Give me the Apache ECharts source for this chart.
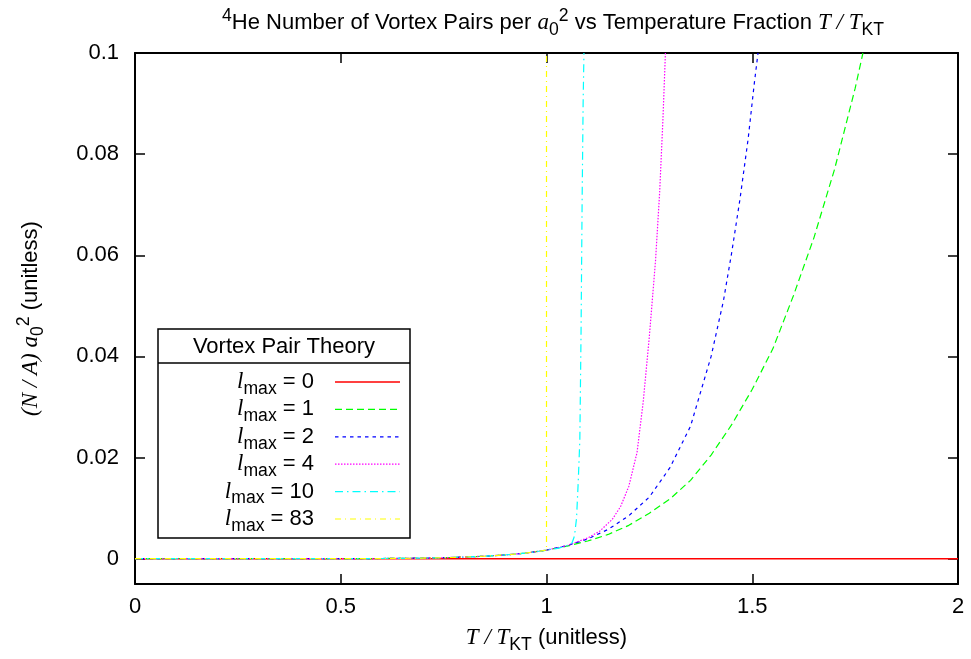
<!DOCTYPE html>
<html><head><meta charset="utf-8">
<script src="https://cdn.jsdelivr.net/npm/echarts@6/dist/echarts.min.js"></script>
<style>html,body{margin:0;padding:0;background:#fff}#c{width:971px;height:659px}</style>
</head><body><div id="c"></div>
<script>
// ---- data ----
const lmaxLabels = ['0', '1', '2', '4', '10', '83'];
const seriesColors = ['#ff0000', '#00ff00', '#0000ff', '#ff00ff', '#00ffff', '#ffff00'];

// shared low-temperature part (all l_max >= 1 follow it up to T/T_KT = 1)
const baseX = [0, 0.5, 0.6, 0.7, 0.75, 0.8, 0.85, 0.9, 0.95, 1.0];
const baseY = [0, 0.00001, 0.00004, 0.00012, 0.0002, 0.00033, 0.0005, 0.00075, 0.0011, 0.0017];

const lmax0X = [0, 2];
const lmax0Y = [0, 0];
const lmax1X = [1.05, 1.1, 1.15, 1.2, 1.25, 1.3, 1.35, 1.4, 1.45, 1.5, 1.55, 1.6, 1.65, 1.7, 1.75, 1.769];
const lmax1Y = [0.0025, 0.0035, 0.0048, 0.0066, 0.009, 0.0118, 0.0155, 0.0205, 0.0265, 0.0335, 0.0415, 0.052, 0.0635, 0.077, 0.093, 0.1];
const lmax2X = [1.05, 1.1, 1.15, 1.2, 1.25, 1.3, 1.35, 1.4, 1.43, 1.45, 1.47, 1.49, 1.505, 1.514];
const lmax2Y = [0.0026, 0.0039, 0.0058, 0.0085, 0.0122, 0.018, 0.0262, 0.040, 0.051, 0.0605, 0.071, 0.083, 0.094, 0.1];
const lmax4X = [1.05, 1.1, 1.13, 1.16, 1.18, 1.2, 1.22, 1.235, 1.25, 1.265, 1.275, 1.283, 1.289];
const lmax4Y = [0.0026, 0.0041, 0.0055, 0.0078, 0.0103, 0.0143, 0.021, 0.031, 0.044, 0.059, 0.0725, 0.087, 0.1];
const lmax10X = [1.03, 1.05, 1.062, 1.068, 1.073, 1.077, 1.081, 1.084, 1.0865, 1.089, 1.091];
const lmax10Y = [0.0021, 0.0026, 0.0031, 0.0045, 0.008, 0.015, 0.0235, 0.045, 0.07, 0.09, 0.1];
const lmax83X = [1.0];
const lmax83Y = [0.1];

const xTicks = [0, 0.5, 1, 1.5, 2];
const xTickLabels = ['0', '0.5', '1', '1.5', '2'];
const yTicks = [0, 0.02, 0.04, 0.06, 0.08, 0.1];
const yTickLabels = ['0', '0.02', '0.04', '0.06', '0.08', '0.1'];

// ---- build ----
const SANS = 'Liberation Sans, Arial, sans-serif';
const SERIF = 'Liberation Serif, Times New Roman, serif';
function zip(xs, ys) { return xs.map((x, i) => [x, ys[i]]); }
const baseData = zip(baseX, baseY);
const seriesData = [
  zip(lmax0X, lmax0Y),
  baseData.concat(zip(lmax1X, lmax1Y)),
  baseData.concat(zip(lmax2X, lmax2Y)),
  baseData.concat(zip(lmax4X, lmax4Y)),
  baseData.concat(zip(lmax10X, lmax10Y)),
  baseData.concat(zip(lmax83X, lmax83Y))
];
const dashes = ['solid', [7, 4], [3.5, 4], [1.5, 1.5], [8, 4, 1.5, 4], [6, 4, 1, 4]];
const widths = [1.6, 1.2, 1.2, 1.2, 1.2, 1.2];
const dashArr = [null, [7, 4], [3.5, 4], [1.5, 1.5], [8, 4, 1.5, 4], [6, 4, 1, 4]];

const richBase = {
  n: { fontFamily: SANS, fontSize: 22, fontWeight: 'normal', color: '#000' },
  i: { fontFamily: SERIF, fontStyle: 'italic', fontWeight: 'normal', fontSize: 23, color: '#000' },
  sub: { fontFamily: SANS, fontSize: 17.6, fontWeight: 'normal', color: '#000', padding: [14, 0, 0, 0] },
  sup: { fontFamily: SANS, fontSize: 17.6, fontWeight: 'normal', color: '#000', padding: [0, 0, 14, 0] }
};

const chart = echarts.init(document.getElementById('c'), null, { renderer: 'canvas' });

const legendGraphics = [
  { type: 'rect', shape: { x: 158, y: 329, width: 252, height: 209 },
    style: { fill: '#fff', stroke: '#000', lineWidth: 1.5 }, z: 100 },
  { type: 'line', shape: { x1: 158, y1: 363, x2: 410, y2: 363 },
    style: { stroke: '#000', lineWidth: 1.5 }, z: 101 },
  { type: 'text', x: 284, y: 347, z: 101,
    style: { text: 'Vortex Pair Theory', font: '22px ' + SANS, fill: '#000', align: 'center', verticalAlign: 'middle' } }
];
lmaxLabels.forEach((lab, k) => {
  const ry = 382 + k * 27.4;
  legendGraphics.push({ type: 'text', x: 314, y: ry, z: 101,
    style: { text: '{i|l}{sub|max}{n| = ' + lab + '}', rich: richBase, align: 'right', verticalAlign: 'middle' } });
  const ls = { stroke: seriesColors[k], lineWidth: widths[k] };
  if (dashArr[k]) ls.lineDash = dashArr[k];
  legendGraphics.push({ type: 'line', shape: { x1: 335, y1: ry, x2: 400, y2: ry }, style: ls, z: 101 });
});

const axisLineStyle = { color: '#000', width: 2 };
const tickStyle = { color: '#000', width: 1.5 };

chart.setOption({
  animation: false,
  backgroundColor: '#fff',
  title: {
    text: '{sup|4}{n|He Number of Vortex Pairs per }{i|a}{sub|0}{sup|2}{n| vs Temperature Fraction }{i|T / T}{sub|KT}',
    left: 548, top: 2, textAlign: 'center',
    textStyle: { fontWeight: 'normal', rich: richBase }
  },
  grid: { left: 135, right: 13, top: 53, bottom: 75, containLabel: false },
  xAxis: [{
    type: 'value', min: 0, max: 2, interval: 0.5,
    axisLine: { show: true, onZero: false, lineStyle: axisLineStyle },
    axisTick: { show: true, inside: true, length: 10, lineStyle: tickStyle },
    splitLine: { show: false },
    axisLabel: { margin: 12, fontFamily: SANS, fontSize: 22, color: '#000',
      formatter: v => xTickLabels[xTicks.indexOf(v)] },
    name: '{i|T / T}{sub|KT}{n| (unitless)}', nameLocation: 'middle', nameGap: 38,
    nameTextStyle: { rich: richBase }
  }, {
    type: 'value', min: 0, max: 2, interval: 0.5, position: 'top',
    axisLine: { show: true, onZero: false, lineStyle: axisLineStyle },
    axisTick: { show: true, inside: true, length: 10, lineStyle: tickStyle },
    splitLine: { show: false }, axisLabel: { show: false }
  }],
  yAxis: [{
    type: 'value', min: -0.005, max: 0.1,
    axisLine: { show: true, onZero: false, lineStyle: axisLineStyle },
    axisTick: { show: true, inside: true, length: 10, lineStyle: tickStyle, customValues: yTicks },
    splitLine: { show: false },
    axisLabel: { margin: 16, fontFamily: SANS, fontSize: 22, color: '#000', customValues: yTicks,
      formatter: v => { const k = yTicks.findIndex(t => Math.abs(t - v) < 1e-9); return k >= 0 ? yTickLabels[k] : ''; } },
    name: '{i|(N / A) a}{sub|0}{sup|2}{n| (unitless)}', nameLocation: 'middle', nameRotate: 90, nameGap: 88,
    nameTextStyle: { rich: richBase }
  }, {
    type: 'value', min: -0.005, max: 0.1, position: 'right',
    axisLine: { show: true, onZero: false, lineStyle: axisLineStyle },
    axisTick: { show: true, inside: true, length: 10, lineStyle: tickStyle, customValues: yTicks },
    splitLine: { show: false }, axisLabel: { show: false }
  }],
  series: seriesData.map((d, k) => ({
    type: 'line', name: 'lmax = ' + lmaxLabels[k], xAxisIndex: 0, yAxisIndex: 0,
    data: d, showSymbol: false, symbol: 'none', clip: true,
    lineStyle: { color: seriesColors[k], width: widths[k], type: dashes[k] },
    z: 2 + k
  })),
  graphic: legendGraphics
});
</script></body></html>
